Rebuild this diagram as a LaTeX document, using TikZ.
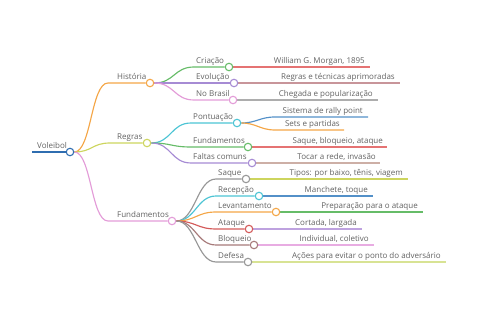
\documentclass[tikz,border=0pt]{standalone}
\usepackage{fontspec}
\setmainfont{Open Sans}
\usetikzlibrary{backgrounds}
\definecolor{cRoot}{HTML}{2F6DB0}
\definecolor{cOrange}{HTML}{F4A647}
\definecolor{cYG}{HTML}{CDD55E}
\definecolor{cPink}{HTML}{E39CD8}
\definecolor{cGreen}{HTML}{66BC68}
\definecolor{cPurple}{HTML}{A68BD4}
\definecolor{cRed}{HTML}{E57373}
\definecolor{cMauve}{HTML}{C8959A}
\definecolor{cGrey}{HTML}{ADADAD}
\definecolor{cCyan}{HTML}{4CC4D4}
\definecolor{cBlue}{HTML}{5390C8}
\definecolor{cBrownRose}{HTML}{CDAFA6}
\definecolor{cDarkRed}{HTML}{D45A5A}
\definecolor{cBrown}{HTML}{A67A7A}
\definecolor{cLYG}{HTML}{D8E394}
\definecolor{cMidGrey}{HTML}{979797}
\definecolor{cLPurple}{HTML}{BEA2DF}
\definecolor{cLPink}{HTML}{E8ACE2}
\definecolor{cText}{HTML}{626262}
\tikzset{
  dot/.style={circle, draw, fill=white, inner sep=0pt, minimum size=7.5pt, line width=1.1pt},
  edge/.style={line width=1.15pt},
  lbl/.style={text=cText, font=\fontsize{8}{9}\selectfont, inner sep=0pt},
  blbl/.style={lbl, anchor=base west},
  llbl/.style={lbl, anchor=base east},
}
\begin{document}
\begin{tikzpicture}[x=1pt,y=-1pt]
\useasboundingbox (0,0) rectangle (480,320);
% ---------- root
\coordinate (r0) at (32,152);
\node[dot, draw=cRoot] (vol) at (70,152) {};
\node[blbl] at (37,149) {Voleibol};
% ---------- level 1
\coordinate (kh) at (108,83);
\node[dot, draw=cOrange] (hist) at (150,83) {};
\node[blbl] at (117,80) {História};
\coordinate (kr) at (110,143);
\node[dot, draw=cYG] (regr) at (147,143) {};
\node[blbl] at (117,140) {Regras};
\coordinate (kf) at (108,221);
\node[dot, draw=cPink] (fund) at (172,221) {};
\node[blbl] at (117,218) {Fundamentos};
% ---------- História children
\coordinate (kc1) at (194,67);
\node[dot, draw=cGreen] (cria) at (229,67) {};
\node[blbl] at (196,64) {Criação};
\coordinate (kc2) at (194,83);
\node[dot, draw=cPurple] (evol) at (234,83) {};
\node[blbl] at (196,80) {Evolução};
\coordinate (kc3) at (194,100);
\node[dot, draw=cPink] (bras) at (233,100) {};
\node[blbl] at (196,97) {No Brasil};
\coordinate (e1) at (370,67);
\node[llbl] (l1) at (365,64) {William G. Morgan, 1895};
\coordinate (e2) at (400,83);
\node[llbl] (l2) at (395,80) {Regras e técnicas aprimoradas};
\coordinate (e3) at (378,100);
\node[llbl] (l3) at (373,97) {Chegada e popularização};
% ---------- Regras children
\coordinate (kr1) at (191,123);
\node[dot, draw=cCyan] (pont) at (237,123) {};
\node[blbl] at (193,120) {Pontuação};
\coordinate (kr2) at (191,147);
\node[dot, draw=cGreen] (rfun) at (248,147) {};
\node[blbl] at (193,144) {Fundamentos};
\coordinate (kr3) at (191,163);
\node[dot, draw=cPurple] (falt) at (252,163) {};
\node[blbl] at (193,160) {Faltas comuns};
\coordinate (kp1) at (275,117);
\coordinate (ep1) at (368,117);
\node[llbl] at (363,114) {Sistema de rally point};
\coordinate (kp2) at (275,130);
\coordinate (ep2) at (344,130);
\node[llbl] at (340,127) {Sets e partidas};
\coordinate (er2) at (387,147);
\node[llbl] at (383,144) {Saque, bloqueio, ataque};
\coordinate (er3) at (380,163);
\node[llbl] at (376,160) {Tocar a rede, invasão};
% ---------- Fundamentos children
\coordinate (kf1) at (216,179);
\node[dot, draw=cMidGrey] (saq) at (246,179) {};
\node[blbl] at (218,176) {Saque};
\coordinate (kf2) at (216,196);
\node[dot, draw=cCyan] (rece) at (259,196) {};
\node[blbl] at (218,193) {Recepção};
\coordinate (kf3) at (216,212);
\node[dot, draw=cOrange] (leva) at (276,212) {};
\node[blbl] at (218,209) {Levantamento};
\coordinate (kf4) at (216,229);
\node[dot, draw=cDarkRed] (ataq) at (249,229) {};
\node[blbl] at (218,226) {Ataque};
\coordinate (kf5) at (216,245);
\node[dot, draw=cBrown] (bloq) at (254,245) {};
\node[blbl] at (218,242) {Bloqueio};
\coordinate (kf6) at (216,262);
\node[dot, draw=cMidGrey] (defe) at (248,262) {};
\node[blbl] at (218,259) {Defesa};
\coordinate (ef1) at (408,179);
\node[llbl] at (403,176) {Tipos: por baixo, tênis, viagem};
\coordinate (ef2) at (373,196);
\node[llbl] at (368,193) {Manchete, toque};
\coordinate (ef3) at (423,212);
\node[llbl] at (418,209) {Preparação para o ataque};
\coordinate (ef4) at (362,229);
\node[llbl] at (357,226) {Cortada, largada};
\coordinate (ef5) at (374,245);
\node[llbl] at (369,242) {Individual, coletivo};
\coordinate (ef6) at (446,262);
\node[llbl] at (441,259) {Ações para evitar o ponto do adversário};
% ---------- connectors
\begin{pgfonlayer}{background}
\draw[edge, cRoot] (r0) -- (vol);
\draw[edge, cOrange] (vol.east) .. controls +(17,0) and +(-17,0) .. (kh) -- (hist);
\draw[edge, cYG] (vol.east) .. controls +(18,0) and +(-18,0) .. (kr) -- (regr);
\draw[edge, cPink] (vol.east) .. controls +(17,0) and +(-17,0) .. (kf) -- (fund);
\draw[edge, cGreen] (hist.east) .. controls +(20,0) and +(-20,0) .. (kc1) -- (cria);
\draw[edge, cPurple] (hist.east) .. controls +(20,0) and +(-20,0) .. (kc2) -- (evol);
\draw[edge, cPink] (hist.east) .. controls +(20,0) and +(-20,0) .. (kc3) -- (bras);
\draw[edge, cRed] (cria) -- (e1);
\draw[edge, cMauve] (evol) -- (e2);
\draw[edge, cGrey] (bras) -- (e3);
\draw[edge, cCyan] (regr.east) .. controls +(20,0) and +(-20,0) .. (kr1) -- (pont);
\draw[edge, cGreen] (regr.east) .. controls +(20,0) and +(-20,0) .. (kr2) -- (rfun);
\draw[edge, cPurple] (regr.east) .. controls +(20,0) and +(-20,0) .. (kr3) -- (falt);
\draw[edge, cBlue] (pont.east) .. controls +(15,0) and +(-15,0) .. (kp1) -- (ep1);
\draw[edge, cOrange] (pont.east) .. controls +(15,0) and +(-15,0) .. (kp2) -- (ep2);
\draw[edge, cRed] (rfun) -- (er2);
\draw[edge, cBrownRose] (falt) -- (er3);
\draw[edge, cMidGrey] (fund.east) .. controls +(19,0) and +(-19,0) .. (kf1) -- (saq);
\draw[edge, cCyan] (fund.east) .. controls +(19,0) and +(-19,0) .. (kf2) -- (rece);
\draw[edge, cOrange] (fund.east) .. controls +(19,0) and +(-19,0) .. (kf3) -- (leva);
\draw[edge, cDarkRed] (fund.east) .. controls +(19,0) and +(-19,0) .. (kf4) -- (ataq);
\draw[edge, cBrown] (fund.east) .. controls +(19,0) and +(-19,0) .. (kf5) -- (bloq);
\draw[edge, cMidGrey] (fund.east) .. controls +(19,0) and +(-19,0) .. (kf6) -- (defe);
\draw[edge, cYG] (saq) -- (ef1);
\draw[edge, cBlue] (rece) -- (ef2);
\draw[edge, cGreen] (leva) -- (ef3);
\draw[edge, cLPurple] (ataq) -- (ef4);
\draw[edge, cLPink] (bloq) -- (ef5);
\draw[edge, cLYG] (defe) -- (ef6);
\end{pgfonlayer}
\end{tikzpicture}
\end{document}
